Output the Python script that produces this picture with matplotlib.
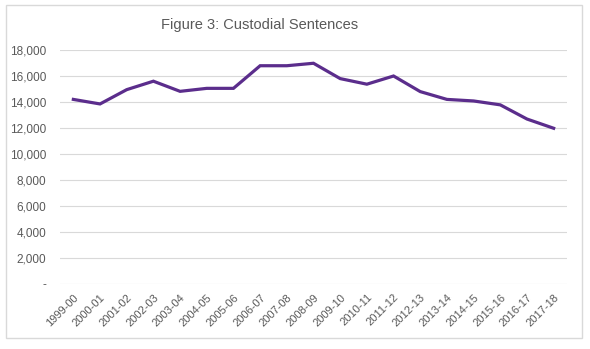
import matplotlib
matplotlib.use('Agg')
import matplotlib.pyplot as plt
from matplotlib.patches import Rectangle
from matplotlib.ticker import FuncFormatter

# financial years and number of custodial sentences
years = ['1999-00', '2000-01', '2001-02', '2002-03', '2003-04', '2004-05', '2005-06',
         '2006-07', '2007-08', '2008-09', '2009-10', '2010-11', '2011-12', '2012-13',
         '2013-14', '2014-15', '2015-16', '2016-17', '2017-18']
sentences = [14200, 13850, 14950, 15600, 14820, 15050, 15050,
             16790, 16790, 16980, 15800, 15370, 16000, 14800,
             14200, 14080, 13780, 12690, 11980]

plt.rcParams['font.family'] = ['Liberation Sans', 'DejaVu Sans']
grey = '#595959'

fig = plt.figure(figsize=(5.9, 3.49), dpi=100)
ax = fig.add_axes([60 / 590, 1 - 284 / 349, 507 / 590, 234 / 349])

x = list(range(len(years)))
ax.plot(x, sentences, color='#5B2D8C', linewidth=2.3, solid_joinstyle='miter')

ax.set_xlim(-0.5, len(years) - 0.5)
ax.set_ylim(0, 18000)
ax.set_yticks(range(0, 18001, 2000))
ax.yaxis.set_major_formatter(FuncFormatter(lambda v, p: '-' if v == 0 else f'{v:,.0f}'))
ax.set_xticks(x)
ax.set_xticklabels(years, rotation=45, ha='right', rotation_mode='anchor', fontsize=8)

ax.grid(axis='y', color='#D9D9D9', linewidth=0.8)
ax.set_axisbelow(True)
for s in ax.spines.values():
    s.set_visible(False)
ax.tick_params(axis='both', length=0, labelcolor=grey)
ax.tick_params(axis='y', pad=10, labelsize=8.5)
ax.tick_params(axis='x', pad=6)

fig.text(260 / 590, 1 - 25 / 349, 'Figure 3: Custodial Sentences', ha='center', va='center',
         fontsize=10.5, color=grey)

# light frame round the whole chart
fig.patches.append(Rectangle((6 / 590, 1 - 338 / 349), 576 / 590, 333 / 349,
                             transform=fig.transFigure, fill=False,
                             edgecolor='#D9D9D9', linewidth=1))

fig.savefig('out.png', dpi=100)
